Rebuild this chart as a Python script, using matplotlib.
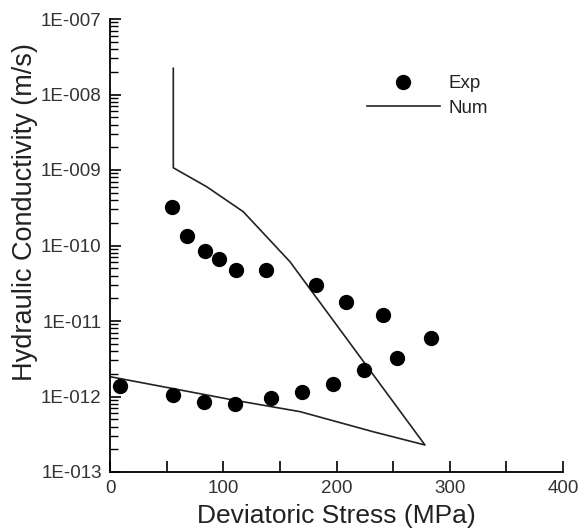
import matplotlib
matplotlib.use("Agg")
import matplotlib.pyplot as plt
from matplotlib.ticker import LogLocator, FixedLocator, NullFormatter

plt.rcParams['font.family'] = ['Liberation Sans', 'DejaVu Sans']

# Experimental data
exp_stress = [8.8, 55.4, 83.3, 110.4, 142.2, 169.8, 197.2, 224.3, 253.4, 283.4,
              54.5, 67.7, 83.9, 96.2, 111.3, 137.5, 181.9, 208.1, 241.0]
exp_k = [1.38e-12, 1.05e-12, 8.4e-13, 7.9e-13, 9.5e-13, 1.16e-12, 1.47e-12, 2.24e-12, 3.24e-12, 5.96e-12,
         3.27e-10, 1.34e-10, 8.5e-11, 6.7e-11, 4.7e-11, 4.7e-11, 3.0e-11, 1.8e-11, 1.2e-11]

# Numerical result
num_stress = [55.9, 55.9, 85.4, 117.7, 158.9, 278.1, 232.2, 167.8, 108.6, 0.0]
num_k = [2.22e-8, 1.07e-9, 6.0e-10, 2.8e-10, 6.1e-11, 2.28e-13, 3.42e-13, 6.3e-13, 9.0e-13, 1.83e-12]

xticks = [0, 100, 200, 300, 400]
yticks = [1e-13, 1e-12, 1e-11, 1e-10, 1e-9, 1e-8, 1e-7]
ytick_labels = ['1E-013', '1E-012', '1E-011', '1E-010', '1E-009', '1E-008', '1E-007']

fig = plt.figure(figsize=(5.81, 5.30), dpi=100)
ax = fig.add_axes([110/581, 58/530, 453/581, 453/530])

ax.plot(num_stress, num_k, color='#222222', lw=1.2, label='Num', zorder=2)
ax.plot(exp_stress, exp_k, 'o', color='black', ms=10, ls='none', label='Exp', zorder=3)

ax.set_yscale('log')
ax.set_xlim(0, 400)
ax.set_ylim(1e-13, 1e-7)

ax.set_xticks(xticks)
ax.set_xticklabels([str(t) for t in xticks])
ax.xaxis.set_minor_locator(FixedLocator([50, 150, 250, 350]))
ax.set_yticks(yticks)
ax.set_yticklabels(ytick_labels)
ax.yaxis.set_minor_locator(LogLocator(base=10, subs=range(2, 10), numticks=20))
ax.yaxis.set_minor_formatter(NullFormatter())

for s in ['top', 'right']:
    ax.spines[s].set_visible(False)
for s in ['left', 'bottom']:
    ax.spines[s].set_linewidth(1.3)

ax.tick_params(axis='both', which='major', direction='in', length=8, width=1.2,
               labelsize=13.5, colors='black', labelcolor='#333333')
ax.tick_params(axis='x', which='minor', direction='in', length=8, width=1.2)
ax.tick_params(axis='y', which='minor', direction='in', length=6, width=1.0)
ax.tick_params(axis='x', which='major', pad=6)
ax.tick_params(axis='y', which='major', pad=6)

ax.set_xlabel('Deviatoric Stress (MPa)', fontsize=19, color='#222222')
ax.set_ylabel('Hydraulic Conductivity (m/s)', fontsize=19.5, color='#222222')
ax.xaxis.set_label_coords(0.5, -0.070)
ax.yaxis.set_label_coords(-0.160, 0.574)

handles, labels = ax.get_legend_handles_labels()
leg = ax.legend(handles[::-1], labels[::-1], loc='center', bbox_to_anchor=(0.70, 0.83),
                frameon=False, fontsize=13.5, handlelength=3.9, handletextpad=0.45,
                labelspacing=0.4, numpoints=1)
for t in leg.get_texts():
    t.set_color('#222222')

fig.savefig('out.png', dpi=100)
